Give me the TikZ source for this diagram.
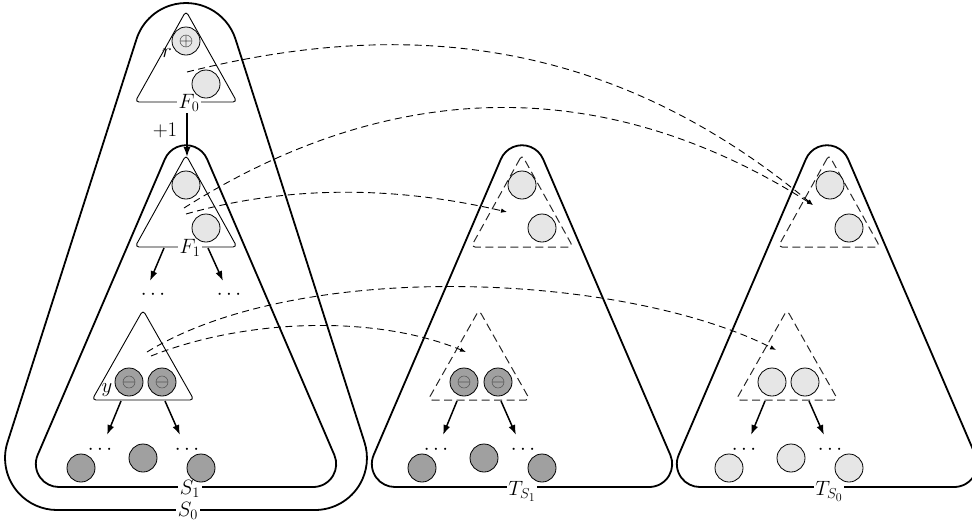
\documentclass[tikz,border=0pt]{standalone}
\usetikzlibrary{arrows.meta,calc}
\definecolor{lightfill}{HTML}{E6E6E6}
\definecolor{darkfill}{HTML}{A0A0A0}
\definecolor{symcol}{HTML}{555555}
\tikzset{
  bigline/.style={line width=1.8pt, line join=round},
  smalltri/.style={line width=0.9pt, rounded corners=4pt, line join=round},
  dashtri/.style={line width=1.0pt, rounded corners=4pt, dash pattern=on 8pt off 4.5pt, draw=black!85},
  ball/.style={circle, draw, line width=0.8pt, minimum size=28pt, inner sep=0pt},
  lball/.style={ball, fill=lightfill},
  dball/.style={ball, fill=darkfill},
  oplusmark/.style={path picture={\draw[symcol,line width=0.55pt] (path picture bounding box.center) circle[radius=6pt] +(-6pt,0) -- +(6pt,0) +(0,-6pt) -- +(0,6pt);}},
  ominusmark/.style={path picture={\draw[symcol,line width=0.55pt] (path picture bounding box.center) circle[radius=6pt] +(-6pt,0) -- +(6pt,0);}},
  lbl/.style={font=\fontsize{20.74}{24}\selectfont, inner sep=1pt},
  cutlbl/.style={lbl, fill=white, inner sep=1.5pt},
  flow/.style={line width=1.5pt, -{Latex[length=10pt,width=7pt]}},
  jump/.style={line width=0.9pt, dash pattern=on 7pt off 4.5pt, -{Latex[length=6pt,width=4.5pt]}},
}
% rounded triangle: #1 cx, #2 apex y of outer sides, #3 slope, #4 bottom y, #5 radius
\newcommand{\bigtri}[5]{%
  \pgfmathsetmacro{\rtth}{atan(#3)}%
  \pgfmathsetmacro{\rtay}{#2 + #5/sin(\rtth)}%
  \pgfmathsetmacro{\rtby}{#4 - #5}%
  \pgfmathsetmacro{\rtbw}{#3*(\rtby - #2) - #5/cos(\rtth)}%
  \draw[bigline] ($(#1,\rtay)+(180+\rtth:#5)$) -- ($(#1-\rtbw,\rtby)+(180+\rtth:#5)$)
    arc[start angle=180+\rtth, end angle=90, radius=#5]
    -- ($(#1+\rtbw,\rtby)+(90:#5)$)
    arc[start angle=90, end angle=-\rtth, radius=#5]
    -- ($(#1,\rtay)+(-\rtth:#5)$)
    arc[start angle=-\rtth, end angle=-180+\rtth, radius=#5] -- cycle;
}
\newcommand{\smtri}[5]{%
  \draw[#1] (#2,#3) -- (#2-#5,#4) -- (#2+#5,#4) -- cycle;
}
\begin{document}
\begin{tikzpicture}[x=1pt,y=-1pt]
\useasboundingbox (0,0) rectangle (972,523);

% big outlines
\bigtri{186}{-115.6}{0.32}{510}{52}
\bigtri{186}{110}{0.43}{487}{23}
\bigtri{522}{110}{0.43}{487}{23}
\bigtri{827}{110}{0.43}{487}{23}

% outline labels
\node[cutlbl] (S0lab) at (188,511) {$S_0$};
\node[cutlbl] (S1lab) at (190,489) {$S_1$};
\node[cutlbl] (TS1lab) at (522,491) {$T_{S_1}$};
\node[cutlbl] (TS0lab) at (829,491) {$T_{S_0}$};

% small triangles
\smtri{smalltri}{186}{11}{102}{51}
\smtri{smalltri}{186}{155}{247}{51}
\smtri{smalltri}{143}{310}{400}{51}
\smtri{dashtri}{522}{155}{247}{51}
\smtri{dashtri}{829}{155}{247}{51}
\smtri{dashtri}{479}{310}{400}{51}
\smtri{dashtri}{787}{310}{400}{51}

\node[cutlbl] (F0lab) at (189,103) {$F_0$};
\node[cutlbl] (F1lab) at (190,248) {$F_1$};
\node[lbl] (rlab) at (167,53) {$r$};
\node[lbl] (ylab) at (107,390) {$y$};
\node[lbl] (plab) at (165,130) {$+1$};

% circles
\node[lball,oplusmark] (r0) at (186,41) {};
\node[lball] (f0b) at (206,84) {};
\node[lball] (f1a) at (186,185) {};
\node[lball] (f1b) at (206,228) {};
\node[lball] (t1a) at (522,185) {};
\node[lball] (t1b) at (542,228) {};
\node[lball] (t0a) at (830,185) {};
\node[lball] (t0b) at (849,228) {};
\node[dball,ominusmark] (ya) at (129,382) {};
\node[dball,ominusmark] (yb) at (162,382) {};
\node[dball,ominusmark] (u1a) at (464,382) {};
\node[dball,ominusmark] (u1b) at (498,382) {};
\node[lball] (u0a) at (772,382) {};
\node[lball] (u0b) at (805,382) {};
\node[dball] (sb1) at (81,468) {};
\node[dball] (sb2) at (143,458) {};
\node[dball] (sb3) at (201,468) {};
\node[dball] (tb1) at (422,468) {};
\node[dball] (tb2) at (484,458) {};
\node[dball] (tb3) at (542,468) {};
\node[lball] (vb1) at (729,468) {};
\node[lball] (vb2) at (791,458) {};
\node[lball] (vb3) at (849,468) {};

% dots
\node[lbl] (d1) at (153,294.5) {$\cdots$};
\node[lbl] (d2) at (229,294.5) {$\cdots$};
\node[lbl] (d3) at (100,449.5) {$\cdots$};
\node[lbl] (d4) at (187,449.5) {$\cdots$};
\node[lbl] (d5) at (436,449.5) {$\cdots$};
\node[lbl] (d6) at (523,449.5) {$\cdots$};
\node[lbl] (d7) at (744,449.5) {$\cdots$};
\node[lbl] (d8) at (830,449.5) {$\cdots$};

% solid arrows
\coordinate (f1top) at (187,157);
\draw[flow] (F0lab.south -| f1top) -- (f1top);
\coordinate (a1s) at (164,248); \coordinate (a1e) at (150,281);
\coordinate (a2s) at (208,248); \coordinate (a2e) at (223,281);
\coordinate (a3s) at (121,401); \coordinate (a3e) at (107,435);
\coordinate (a4s) at (165,401); \coordinate (a4e) at (180,435);
\coordinate (a5s) at (457,401); \coordinate (a5e) at (443,435);
\coordinate (a6s) at (501,401); \coordinate (a6e) at (516,435);
\coordinate (a7s) at (765,401); \coordinate (a7e) at (751,435);
\coordinate (a8s) at (809,401); \coordinate (a8e) at (824,435);
\foreach \i in {1,...,8} {\draw[flow] (a\i s) -- (a\i e);}

% dashed jumps
\coordinate (j1s) at (187,72);  \coordinate (j1e) at (813,205);
\coordinate (j2s) at (184,208); \coordinate (j2e) at (813,205);
\coordinate (j3s) at (186,214); \coordinate (j3e) at (507,212);
\coordinate (j4s) at (147,352); \coordinate (j4e) at (776,350);
\coordinate (j5s) at (151,356); \coordinate (j5e) at (466,352);
\draw[jump] (j1s) .. controls (410,16) and (614,40) .. (j1e);
\draw[jump] (j2s) .. controls (409,66) and (622,84) .. (j2e);
\draw[jump] (j3s) .. controls (292,184) and (400,187) .. (j3e);
\draw[jump] (j4s) .. controls (300,258) and (624,273) .. (j4e);
\draw[jump] (j5s) .. controls (244,319) and (374,314) .. (j5e);
\end{tikzpicture}
\end{document}
